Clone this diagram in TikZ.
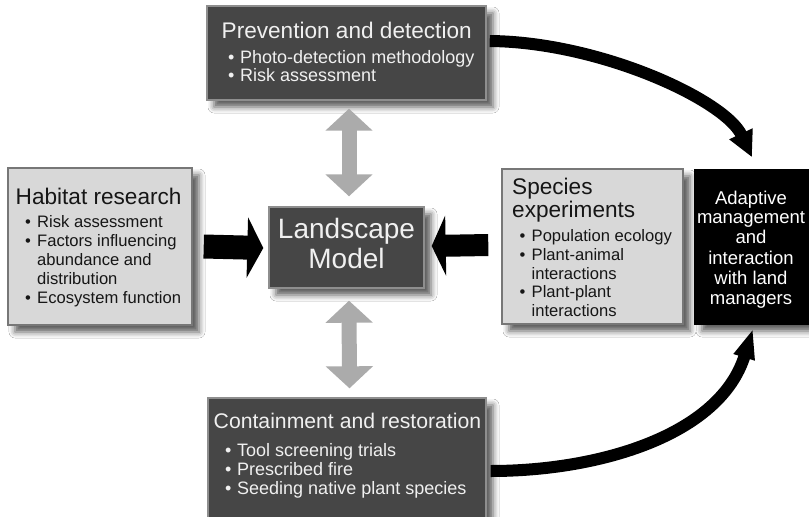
\documentclass[tikz,border=0pt]{standalone}
\usepackage{fontspec}
\setmainfont{Liberation Sans}
\usetikzlibrary{arrows.meta,shadows.blur}

\definecolor{boxdark}{HTML}{464646}
\definecolor{boxlight}{HTML}{D8D8D8}
\definecolor{edgedark}{HTML}{8E8E8E}
\definecolor{edgelight}{HTML}{777777}
\definecolor{arrowgray}{HTML}{ABABAB}
\definecolor{textlight}{HTML}{F0F0F0}
\definecolor{textdark}{HTML}{161616}

% bullet of fixed width in front of a list item
\newcommand\itemdot{\makebox[12pt][l]{\textbullet}}

\begin{document}
\begin{tikzpicture}[x=1pt,y=-1pt,
  panel/.style={line width=1.4pt, inner sep=0pt,
    blur shadow={shadow xshift=7pt, shadow yshift=-7pt,
                 shadow blur radius=6pt, shadow opacity=65}},
  darkpanel/.style={panel, fill=boxdark, draw=edgedark},
  lightpanel/.style={panel, fill=boxlight, draw=edgelight},
  blackpanel/.style={panel, fill=black, draw=black},
  headline/.style={anchor=base west, inner sep=0pt, font=\fontsize{22.6}{24}\selectfont},
  itemline/.style={anchor=base west, inner sep=0pt, font=\fontsize{18}{20}\selectfont},
  smallitem/.style={anchor=base west, inner sep=0pt, font=\fontsize{16.6}{18}\selectfont},
  onlight/.style={text=textdark},
  ondark/.style={text=textlight},
  twoway/.style={draw=arrowgray, line width=15pt,
    arrows={Triangle[width=46pt,length=22pt]-Triangle[width=46pt,length=22pt]}},
  pushin/.style={draw=black, line width=24pt, -{Triangle[width=60pt,length=16pt]}},
  sweep/.style={draw=black, line width=12pt, -{Triangle[width=24pt,length=26pt]}}
]
\fill[white] (0,0) rectangle (809,517);
\useasboundingbox (0,0) rectangle (809,517);

% ---- boxes ----
\node[darkpanel,  minimum width=279pt, minimum height=94pt]  (prev)  at (346.5,53)    {};
\node[lightpanel, minimum width=184pt, minimum height=157pt] (hab)   at (100,246.5)   {};
\node[darkpanel,  minimum width=155pt, minimum height=81pt]  (model) at (346.5,247.5) {};
\node[lightpanel, minimum width=181pt, minimum height=155pt] (spec)  at (592.5,246.5) {};
\node[blackpanel, minimum width=120pt, minimum height=154pt] (adapt) at (755,247)     {};
\node[darkpanel,  minimum width=278pt, minimum height=132pt] (cont)  at (347,464)     {};

% ---- Prevention and detection ----
\node[headline, ondark] (prevT) at (221.5,38) {Prevention and detection};
\node[itemline, ondark] (prev1) at (228,63) {\itemdot Photo-detection methodology};
\node[itemline, ondark] (prev2) at (228,81) {\itemdot Risk assessment};

% ---- Habitat research ----
\node[headline, onlight] (habT) at (15.5,204.5) {Habitat research};
\node[smallitem, onlight] (hab1) at (25,227.5) {\itemdot Risk assessment};
\node[smallitem, onlight] (hab2) at (25,246)   {\itemdot Factors influencing};
\node[smallitem, onlight] (hab3) at (37,265)   {abundance and};
\node[smallitem, onlight] (hab4) at (37,284)   {distribution};
\node[smallitem, onlight] (hab5) at (25,303.5) {\itemdot Ecosystem function};

% ---- Landscape Model ----
\node[anchor=base, inner sep=0pt, ondark, font=\fontsize{28}{30}\selectfont] (modelA) at (346.5,238.5) {Landscape};
\node[anchor=base, inner sep=0pt, ondark, font=\fontsize{28}{30}\selectfont] (modelB) at (346.5,268.5) {Model};

% ---- Species experiments ----
\node[headline, onlight] (specA) at (512,194.5) {Species};
\node[headline, onlight] (specB) at (512,217)   {experiments};
\node[smallitem, onlight] (spec1) at (519.5,241)   {\itemdot Population ecology};
\node[smallitem, onlight] (spec2) at (519.5,260)   {\itemdot Plant-animal};
\node[smallitem, onlight] (spec3) at (531.5,279)   {interactions};
\node[smallitem, onlight] (spec4) at (519.5,297.5) {\itemdot Plant-plant};
\node[smallitem, onlight] (spec5) at (531.5,316)   {interactions};

% ---- Adaptive management ----
\foreach \txt/\yy [count=\k] in {Adaptive/204, management/223.5, and/243.5,
                                  interaction/264, with land/284, managers/304}
  \node[anchor=base, inner sep=0pt, text=white, font=\fontsize{18.5}{20}\selectfont]
    (adapt\k) at (751,\yy) {\txt};

% ---- Containment and restoration ----
\node[headline, ondark, font=\fontsize{21.2}{23}\selectfont] (contT) at (213.5,428) {Containment and restoration};
\node[itemline, ondark] (cont1) at (225,456)   {\itemdot Tool screening trials};
\node[itemline, ondark] (cont2) at (225,475.5) {\itemdot Prescribed fire};
\node[itemline, ondark] (cont3) at (225,494)   {\itemdot Seeding native plant species};

% ---- two-way links with the model ----
\draw[twoway] ([xshift=2.5pt,yshift=-8pt]prev.south) -- ([xshift=2.5pt,yshift=10pt]model.north);
\draw[twoway] ([xshift=2.5pt,yshift=-12pt]model.south) -- ([xshift=2.5pt,yshift=9pt]cont.north);

% ---- inputs to the model ----
\draw[pushin] ([xshift=11pt]hab.east) -- ([xshift=-5pt,yshift=-0.5pt]model.west);
\draw[pushin, line width=22pt, -{Triangle[width=60pt,length=14pt]}]
  ([xshift=-13pt,yshift=1.5pt]spec.west) -- ([xshift=7pt,yshift=1.5pt]model.east);

% ---- feeds into adaptive management ----
\draw[sweep] ([xshift=3pt,yshift=12pt]prev.east)
  .. controls (600,42) and (725,100) .. ([xshift=-3pt,yshift=12pt]adapt.north);
\draw[sweep, -{Triangle[width=20pt,length=30pt]}] ([xshift=4pt,yshift=-7pt]cont.east)
  .. controls (600,471) and (720,435) .. ([xshift=-2pt,yshift=-4pt]adapt.south);
\end{tikzpicture}
\end{document}
